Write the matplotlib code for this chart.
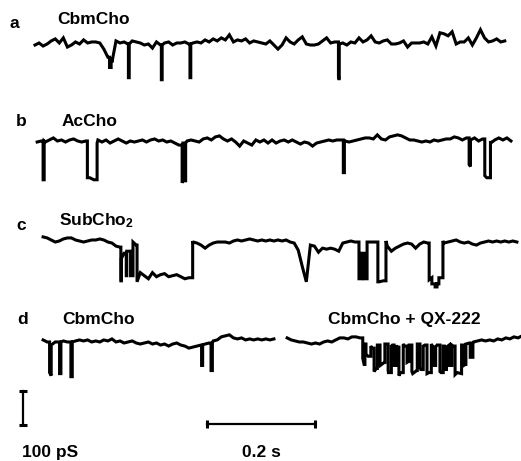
import numpy as np
import matplotlib
matplotlib.use("Agg")
import matplotlib.pyplot as plt

plt.rcParams["font.family"] = ["Liberation Sans", "DejaVu Sans"]
plt.rcParams["mathtext.default"] = "regular"

# --- recorded traces ---------------------------------------------------
# baseline (closed) noise in pS, one sample every DT ms; openings are
# listed as (start ms, end ms, depth pS) and drawn as downward steps
DT = 7.5

a_start = 0
a_noise = [
    -3, 3, -6, 0, 9, 15, 3, 18, -9, -3,
    6, 0, 12, 3, 6, 6, 3, -15, -39, -54,
    9, 3, 6, 0, 9, 6, 3, -3, 0, -12,
    6, -3, 3, 6, -3, 3, 3, 6, 0, 3,
    6, 3, 12, 6, 15, 9, 18, 12, 27, 6,
    12, 9, 15, 3, 9, 6, 3, 0, 9, -3,
    -15, -3, 18, 6, 0, 12, 21, 0, -3, -3,
    0, 9, 18, 3, 6, 0, 3, -3, 6, 3,
    18, 6, 12, 24, 6, 3, 9, 12, 0, 0,
    3, 9, -9, 3, 3, 3, 6, 0, 21, -6,
    33, 30, 24, 36, 0, 6, 6, 18, -3, 18,
    42, 18, 6, 9, 15, 6, 9,
]
a_events = [(138, 141, 30), (173, 174.5, 99), (234, 235.5, 102),
            (287, 288.5, 99), (562, 563.5, 102)]

b_start = 4
b_noise = [
    -3, 0, -3, 3, 9, 0, 3, -3, 3, 6,
    0, -3, 0, 0, -6, 3, -3, 3, -6, 0,
    6, 0, -6, 0, -3, 0, 3, -3, 3, 6,
    0, 3, -3, 0, -6, -12, -6, 0, 3, 0,
    -3, 6, 9, 3, 12, 15, 6, 0, 6, -3,
    -15, 0, -6, -12, 3, -3, 3, -6, 3, -6,
    0, 3, -3, 3, -3, -9, -3, -6, -15, -6,
    -3, 0, 3, 0, 3, 3, 0, -3, 0, 3,
    6, 9, 9, 6, 18, 6, 3, 12, 15, 18,
    15, 9, 3, 3, 0, -3, 0, -3, 3, 0,
    3, 6, 6, 12, 9, 3, 9, 3, 9, 0,
    6, 0, -6, 3, 9, 3, 9, 0,
]
b_events = [(15, 17, 114), (97, 115, 108), (272.5, 274, 111),
            (277.5, 279, 111), (571, 573, 96), (804, 806.5, 78),
            (833, 843.5, 108)]

c_start = 15
c_noise = [
    12, 9, 3, -3, 0, 6, 9, 9, 3, 0,
    -3, 0, 3, 3, 6, 3, -3, -6, -15, -18,
    -3, -3, -3, -12, 15, 6, -3, 15, 3, 9,
    12, 3, 6, 9, 3, -3, 0, -3, -6, -12,
    -21, -12, -6, -3, -3, -3, -6, 0, 3, 0,
    3, 6, 3, 0, 3, 0, 3, 0, 3, 0,
    3, -3, -6, -27, -75, -120, -12, -15, -33, -21,
    -24, -21, -24, -30, -6, -3, 0, -3, -3, -3,
    -3, -3, -3, -3, 0, -15, -30, -21, -15, -9,
    -6, -9, -21, -9, -3, -6, 0, 0, 0, -6,
    -3, 0, 3, -3, -6, -3, -9, -12, -6, -3,
    0, -3, 0, -3, 0, -3, 0, -3,
]
c_events = [(159, 181.5, 99), (160, 169, -66), (170, 177, -72),
            (189, 292, 108),
            (600, 615, 108), (605, 609.5, -75),
            (635, 650, 117),
            (730, 755.5, 108), (735, 748, 18), (741, 744.5, 9)]

d1_start = 15
d1_noise = [
    9, 3, -6, 3, 3, 6, 3, 3, 6, 9,
    6, 9, 3, 6, 3, 9, 6, 12, 3, 6,
    0, 3, 6, 0, -3, 0, 3, -3, 0, -6,
    -3, -9, -3, 0, -6, -9, -15, -12, -9, -6,
    -3, 0, 6, 9, 18, 21, 24, 15, 12, 15,
    9, 12, 9, 12, 9, 12, 9, 12,
]
d1_events = [(27, 30, 90), (45.5, 48, 93), (66.5, 69, 102),
             (308.5, 310.5, 60), (326, 328.5, 81)]

d2_start = 467
d2_noise = [
    15, 9, 6, 3, 3, 0, -3, 0, -3, 3,
    6, 3, 9, 15, 15, 12, 18, 18, 15, -3,
    -9, -15, -6, -12, -3, -9, -6, -12, -3, -9,
    -6, -12, -3, -9, -6, -3, -12, -6, -9, -12,
    -6, -9, -3, -6, -3, 0, 3, 6, 9, 6,
    9, 6, 12, 9, 15, 12, 18, 15, 21,
]
d2_events = [(607, 611, 60), (613, 622, 30), (628, 634, 69), (639, 648, 54),
             (654, 660, 78), (665, 669, 60), (674, 682, 84), (689, 693, 48),
             (698, 708, 78), (713, 719, 69), (726, 734, 84), (739, 742, 54),
             (750, 756, 78), (758, 762, 66), (767, 772, 60), (778, 790, 84),
             (794, 798, 60), (806, 811, 42)]

# --- page layout (pixels of the 521 x 461 figure) ----------------------
W, H = 521, 461
MS_PER_PX = 1.852      # 0.2 s bar is 108 px
PS_PER_PX = 2.94       # 100 pS bar is 34 px
X0 = 35                # px where t = 0


def build_trace(t0, noise, events):
    noise = np.asarray(noise, dtype=float)
    t = t0 + DT * np.arange(len(noise))

    def depth(x, side):
        if side == "left":
            return sum(d for s, e, d in events if s < x <= e)
        return sum(d for s, e, d in events if s <= x < e)

    edges = sorted({s for s, e, d in events} | {e for s, e, d in events})
    pts = [(ti, 1, noise[i] - depth(ti, "right")) for i, ti in enumerate(t)]
    for te in edges:
        if te < t[0] or te > t[-1]:
            continue
        k = max(np.searchsorted(t, te, side="right") - 1, 0)
        pts.append((te, 0, noise[k] - depth(te, "left")))
        pts.append((te, 0.5, noise[k] - depth(te, "right")))
    pts.sort(key=lambda p: (p[0], p[1]))
    return np.array([p[0] for p in pts]), np.array([p[2] for p in pts])


fig = plt.figure(figsize=(W / 100, H / 100), dpi=100)
ax = fig.add_axes([0, 0, 1, 1])
ax.set_xlim(-X0 * MS_PER_PX, (W - X0) * MS_PER_PX)
ax.set_ylim(-H * PS_PER_PX, 0)
ax.axis("off")

traces = [
    (a_start, a_noise, a_events, 44),
    (b_start, b_noise, b_events, 141),
    (c_start, c_noise, c_events, 241),
    (d1_start, d1_noise, d1_events, 343),
    (d2_start, d2_noise, d2_events, 343),
]
for t0, noise, events, base_px in traces:
    tt, gg = build_trace(t0, noise, events)
    ax.plot(tt, gg - base_px * PS_PER_PX, color="black", lw=2.2,
            solid_joinstyle="miter")

# scale bars: 100 pS and 0.2 s
bar_x = (23 - X0) * MS_PER_PX
bar_y = -425 * PS_PER_PX
ax.plot([bar_x, bar_x], [bar_y, bar_y + 100], color="black", lw=1.6,
        marker="_", markersize=6, markeredgewidth=2.2)
hb_t = (207 - X0) * MS_PER_PX
hb_y = -424 * PS_PER_PX
ax.plot([hb_t, hb_t + 200], [hb_y, hb_y], color="black", lw=1.6,
        marker="|", markersize=6, markeredgewidth=2.2)

# text
labels = [
    ("a", 9, 24), ("CbmCho", 57, 20),
    ("b", 16, 122), ("AcCho", 62, 121),
    ("c", 16, 225), ("SubCho$_2$", 59, 221),
    ("d", 17, 320), ("CbmCho", 62, 320), ("CbmCho + QX-222", 328, 319),
    ("100 pS", 22, 452), ("0.2 s", 242, 452),
]
for s, x, y in labels:
    fig.text(x / W, 1 - y / H, s, fontsize=12.5, fontweight="bold",
             ha="left", va="center")

fig.savefig("out.png", dpi=100)
